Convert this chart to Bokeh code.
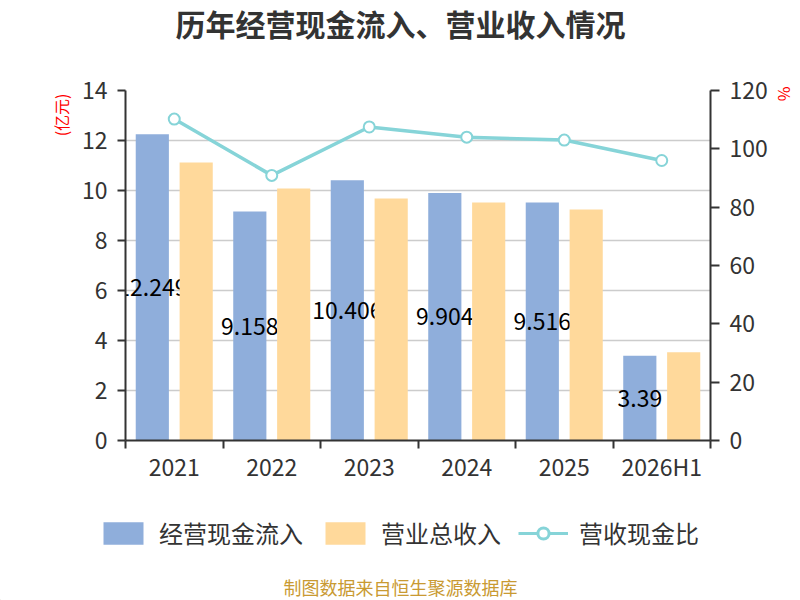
from bokeh.plotting import figure
from bokeh.models import (ColumnDataSource, Range1d, LinearAxis, FixedTicker,
                          Label, Legend, LegendItem, Title, Plot)
from bokeh.layouts import column
from bokeh.transform import dodge
from bokeh.embed import file_html
from bokeh.resources import INLINE
from bokeh.core.properties import value

years = ["2021", "2022", "2023", "2024", "2025", "2026H1"]
cash_inflow = [12.249, 9.158, 10.406, 9.904, 9.516, 3.39]   # 经营现金流入 (亿元)
revenue = [11.12, 10.08, 9.68, 9.52, 9.24, 3.53]            # 营业总收入 (亿元)
ratio = [110.2, 90.9, 107.5, 104.0, 103.0, 96.0]            # 营收现金比 (%)
left_ticks = [0, 2, 4, 6, 8, 10, 12, 14]
right_ticks = [0, 20, 40, 60, 80, 100, 120]

FONT = "Noto Sans CJK SC"
BLUE = "#8faedb"
ORANGE = "#ffd99b"
TEAL = "#86d4d8"
TXT = "#333333"
HAS_FA = "frame_align" in Plot.properties()


def strip(height):
    f = figure(x_range=Range1d(0, 800), y_range=Range1d(0, height), width=800, height=height,
               output_backend="svg", toolbar_location=None, x_axis_location=None,
               y_axis_location=None, min_border_left=0, min_border_right=0,
               min_border_top=0, min_border_bottom=0)
    if HAS_FA:
        f.frame_align = False
    f.outline_line_color = None
    f.grid.grid_line_color = None
    return f


n = len(years)
src = ColumnDataSource(dict(
    xc=[i + 0.5 for i in range(n)], year=years, cash=cash_inflow, rev=revenue, ratio=ratio,
    cash_mid=[v / 2 for v in cash_inflow],
    cash_txt=[f"{v:g}" for v in cash_inflow],
))

# title strip
t = strip(45)
t.add_layout(Label(x=400, y=23, text="历年经营现金流入、营业收入情况",
                   text_font=FONT, text_font_style="bold", text_font_size="30px",
                   text_color=TXT, text_align="center", text_baseline="middle"))

p = figure(x_range=Range1d(0, n), y_range=Range1d(0, 14),
           width=800, height=455, output_backend="svg", toolbar_location=None,
           x_axis_location=None, min_border_left=125, min_border_right=90,
           min_border_top=45, min_border_bottom=60)
if HAS_FA:
    p.frame_align = False
p.extra_y_ranges = {"pct": Range1d(0, 120)}
p.outline_line_color = None
p.xgrid.grid_line_color = None
p.ygrid.grid_line_color = "#cccccc"
p.ygrid.grid_line_width = 1.5
p.ygrid.ticker = FixedTicker(ticks=left_ticks)

blue = p.vbar(x=dodge("xc", -0.225), top="cash", width=0.34, source=src,
              fill_color=BLUE, line_color=None)
p.text(x=dodge("xc", -0.225), y="cash_mid", text="cash_txt", source=src,
       text_font=value(FONT), text_font_size="23px", text_color="#000000",
       text_align="center", text_baseline="middle")
orange = p.vbar(x=dodge("xc", 0.225), top="rev", width=0.34, source=src,
                fill_color=ORANGE, line_color=None)
p.line(x="xc", y="ratio", y_range_name="pct", source=src, line_color=TEAL, line_width=3.5)
p.scatter(x="xc", y="ratio", y_range_name="pct", source=src, size=11, fill_color="white",
          line_color=TEAL, line_width=2)


def style_axis(ax):
    ax.axis_line_color = TXT
    ax.axis_line_width = 2
    ax.major_tick_line_color = TXT
    ax.major_tick_line_width = 2
    ax.minor_tick_line_color = TXT
    ax.minor_tick_line_width = 2
    ax.major_label_text_font = FONT
    ax.major_label_text_font_size = "23px"
    ax.major_label_text_color = TXT


ly = p.yaxis[0]
ly.ticker = FixedTicker(ticks=left_ticks)
style_axis(ly)
ly.major_tick_out = 8
ly.major_tick_in = 0
ly.minor_tick_out = 0
ly.minor_tick_in = 0
ly.major_label_standoff = 10

ry = LinearAxis(y_range_name="pct", ticker=FixedTicker(ticks=right_ticks))
style_axis(ry)
ry.major_tick_out = 9
ry.major_tick_in = 0
ry.minor_tick_out = 0
ry.minor_tick_in = 0
ry.major_label_standoff = 10
p.add_layout(ry, "right")

bx = LinearAxis(ticker=FixedTicker(ticks=[i + 0.5 for i in range(n)],
                                   minor_ticks=list(range(n + 1))),
                major_label_overrides={i + 0.5: y for i, y in enumerate(years)})
style_axis(bx)
bx.major_tick_out = 0
bx.major_tick_in = 0
bx.minor_tick_out = 8
bx.minor_tick_in = 0
bx.major_label_standoff = 0
p.add_layout(bx, "below")

p.add_layout(Title(text="(亿元)", align="right", offset=3, standoff=11,
                   text_font=FONT, text_font_style="normal", text_font_size="16px",
                   text_color="#ff0000"), "left")
p.add_layout(Title(text="%", align="left", offset=-4, standoff=4,
                   text_font=FONT, text_font_style="normal", text_font_size="16px",
                   text_color="#ff0000"), "right")

# bottom strip: legend and source note
q = strip(100)
lg_blue = q.vbar(x=[-500], top=[1], width=1, fill_color=BLUE, line_color=None)
lg_orange = q.vbar(x=[-500], top=[1], width=1, fill_color=ORANGE, line_color=None)
lg_line = q.line(x=[-500, -499], y=[1, 1], line_color=TEAL, line_width=3)
lg_pt = q.scatter(x=[-500], y=[1], size=25, fill_color="white", line_color=TEAL, line_width=3)

legend = Legend(items=[LegendItem(label="经营现金流入", renderers=[lg_blue]),
                       LegendItem(label="营业总收入", renderers=[lg_orange]),
                       LegendItem(label="营收现金比", renderers=[lg_line, lg_pt])],
                orientation="horizontal", location=(98, 50), glyph_width=50,
                glyph_height=28, label_standoff=11, spacing=17, padding=0, margin=0,
                border_line_color=None, background_fill_alpha=0, label_height=28,
                label_text_font=FONT, label_text_font_size="24px", label_text_color=TXT)
q.add_layout(legend)
q.add_layout(Label(x=400, y=14, text="制图数据来自恒生聚源数据库",
                   text_font=FONT, text_font_size="18px", text_color="#c99a32",
                   text_align="center", text_baseline="middle"))

open("out.html", "w").write(file_html(column(t, p, q), INLINE))
